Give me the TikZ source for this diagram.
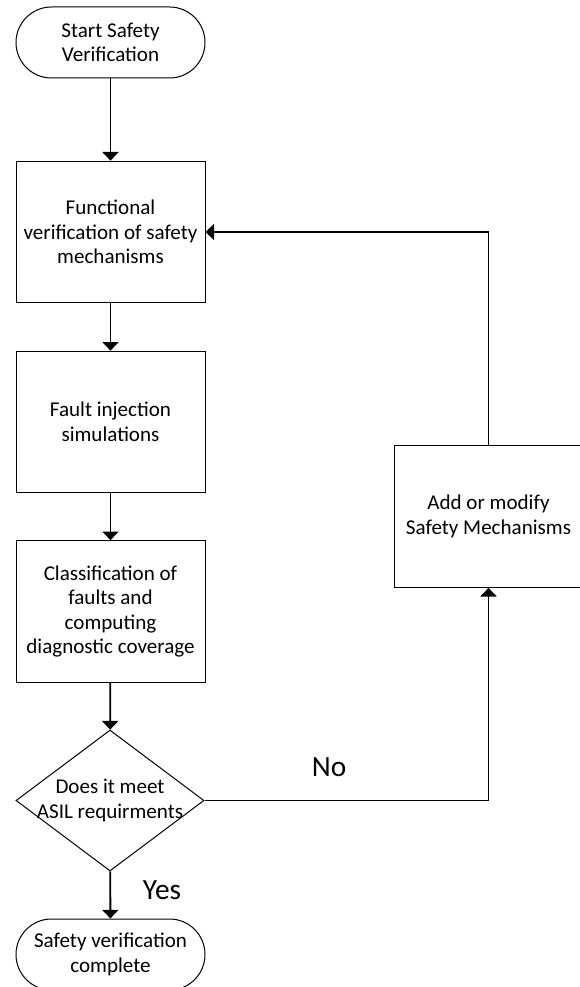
\documentclass[tikz,border=0pt]{standalone}
\usepackage{fontspec}
\setmainfont{Carlito}
\usetikzlibrary{shapes.geometric,arrows.meta}

\begin{document}
\begin{tikzpicture}[x=0.75pt,y=-0.75pt,
  base/.style={draw,line width=0.75pt,align=center,inner sep=0pt,font=\fontsize{15.8}{18.4}\selectfont},
  terminal/.style={base,rectangle,rounded corners=26.6pt,minimum width=141.75pt,minimum height=53.25pt},
  process/.style={base,rectangle,minimum width=141.75pt,minimum height=106.25pt},
  decision/.style={base,diamond,minimum width=141pt,minimum height=105.75pt},
  flow/.style={line width=1.4pt,-{Triangle[width=12pt,length=6.5pt]}},
  answer/.style={font=\fontsize{22}{26}\selectfont,inner sep=0pt}]
  \useasboundingbox (0,0) rectangle (579,987);
  \node[terminal] (start) at (110.5,42.5) {Start Safety\\Verification};
  \node[process] (func) at (110.5,232) {Functional\\verification of safety\\mechanisms};
  \node[process] (inj) at (110.5,422) {Fault injection\\simulations};
  \node[process] (cls) at (110.5,611.5) {Classification of\\faults and\\computing\\diagnostic coverage};
  \node[decision,label={[align=center,font=\fontsize{15.8}{18.4}\selectfont]center:Does it meet\\ASIL requirments}] (asil) at (110,800.5) {};
  \node[terminal] (done) at (110.5,954.5) {Safety verification\\complete};
  \node[process] (add) at (488.5,516.5) {Add or modify\\Safety Mechanisms};
  \draw[flow] (start) -- (func); \draw[flow] (func) -- (inj); \draw[flow] (inj) -- (cls);
  \draw[flow] (cls) -- (asil); \draw[flow] (asil) -- (done);
  \draw[flow] (asil.east) -| (add.south); \draw[flow] (add.north) |- (func.east);
  \node[answer] (no) at (329,767) {No}; \node[answer] (yes) at (162,890) {Yes};
\end{tikzpicture}
\end{document}
